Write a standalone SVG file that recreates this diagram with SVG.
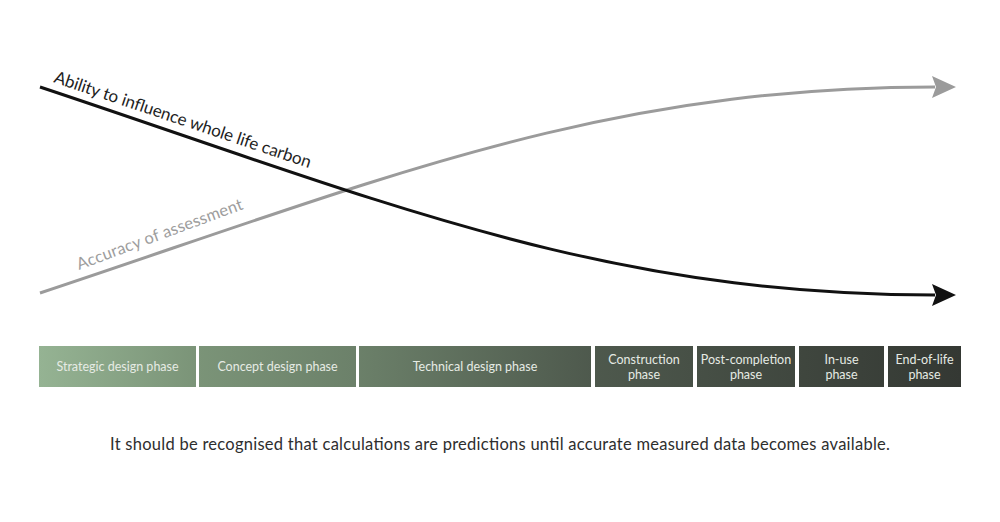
<svg xmlns="http://www.w3.org/2000/svg" width="1000" height="522" viewBox="0 0 1000 522">
<defs>
<style>
.lbl{font-family:Lato,"Noto Sans",sans-serif;}
.ph{font-family:Lato,"Noto Sans",sans-serif;font-size:12.5px;fill:#e6ebe4;text-anchor:middle;}
.box{stroke:none;fill:url(#bar)}
</style>
<linearGradient id="bar" gradientUnits="userSpaceOnUse" x1="39" y1="0" x2="961" y2="0">
<stop offset="0" stop-color="#95b393"/>
<stop offset="0.17" stop-color="#7b9478"/>
<stop offset="0.34" stop-color="#6c816a"/>
<stop offset="0.6" stop-color="#4e594d"/>
<stop offset="1" stop-color="#343833"/>
</linearGradient>
</defs>
<rect width="1000" height="522" fill="#fff"/>
<g id="connectors">
<path d="M40,293 C380,180 600,87 935,87" fill="none" stroke="#9b9b9b" stroke-width="3"/>
<path d="M932,76 L956,87 L932,98 L936,87 Z" fill="#9b9b9b"/>
<path d="M40,87 C380,200 600,295 935,295" fill="none" stroke="#111" stroke-width="3"/>
<path d="M932,284 L956,295 L932,306 L936,295 Z" fill="#111"/>
</g>
<g id="label-ability">
<text class="lbl" x="0" y="0" font-size="17" fill="#1e1e1e" textLength="270" lengthAdjust="spacing" transform="translate(53,82) rotate(18.6)">Ability to influence whole life carbon</text>
</g>
<g id="label-accuracy">
<text class="lbl" x="0" y="0" font-size="16.5" fill="#9d9d9d" letter-spacing="0.2" transform="translate(79,270) rotate(-20.3)">Accuracy of assessment</text>
</g>
<g id="phase-strategic">
<rect class="box" x="39" y="346" width="157" height="41"/>
<text class="ph" x="117.5" y="371">Strategic design phase</text>
</g>
<g id="phase-concept">
<rect class="box" x="199" y="346" width="157" height="41"/>
<text class="ph" x="277.5" y="371">Concept design phase</text>
</g>
<g id="phase-technical">
<rect class="box" x="359" y="346" width="232" height="41"/>
<text class="ph" x="475" y="371">Technical design phase</text>
</g>
<g id="phase-construction">
<rect class="box" x="595" y="346" width="98" height="41"/>
<text class="ph" x="644" y="364">Construction</text>
<text class="ph" x="644" y="379">phase</text>
</g>
<g id="phase-postcompletion">
<rect class="box" x="697" y="346" width="98" height="41"/>
<text class="ph" x="746" y="364">Post-completion</text>
<text class="ph" x="746" y="379">phase</text>
</g>
<g id="phase-inuse">
<rect class="box" x="799" y="346" width="85" height="41"/>
<text class="ph" x="841.5" y="364">In-use</text>
<text class="ph" x="841.5" y="379">phase</text>
</g>
<g id="phase-endoflife">
<rect class="box" x="888" y="346" width="73" height="41"/>
<text class="ph" x="924.5" y="364">End-of-life</text>
<text class="ph" x="924.5" y="379">phase</text>
</g>
<g id="footnote">
<text class="lbl" x="110" y="450" font-size="16.5" fill="#2e2e2e" textLength="780" lengthAdjust="spacing">It should be recognised that calculations are predictions until accurate measured data becomes available.</text>
</g>
</svg>
